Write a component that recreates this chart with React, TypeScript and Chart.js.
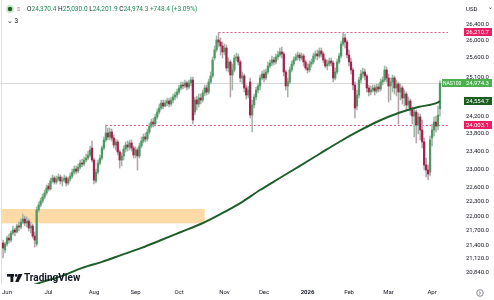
import React, { useEffect, useRef } from "react";
import { Chart, registerables } from "chart.js";

Chart.register(...registerables);

// ---- calendar (categories) ----
const firstDay = "2025-05-29";
const lastDay = "2026-04-08";
const closedDays = ["2025-12-25", "2026-01-01", "2026-04-03"];

const monthLabels = ["Jun", "Jul", "Aug", "Sep", "Oct", "Nov", "Dec", "2026", "Feb", "Mar", "Apr"];
const monthStarts = ["2025-06-02", "2025-07-01", "2025-08-01", "2025-09-01", "2025-10-01", "2025-11-03", "2025-12-01", "2026-01-02", "2026-02-02", "2026-03-02", "2026-04-01"];

// ---- daily OHLC (NAS100) ----
const opens = [
  21444, 21301, 21423, 21546, 21505, 21649, 21711, 21670, 21794, 21774, 21877, 21940, 21857, 21898, 21753, 21794, 21587, 21423, 22129, 22235, 22320, 22405, 22491,
  22640, 22577, 22749, 22815, 22728, 22793, 22836, 22749, 22771, 22815, 22706, 22793, 22858, 22945, 23011, 22967, 23055, 23143, 23121, 23210, 23254, 23321, 23477, 23210,
  22749, 22945, 23143, 23254, 23477, 23657, 23815, 23725, 23838, 23702, 23544, 23612, 23388, 23210, 23299, 23455, 23544, 23499, 23589, 23477,
  23321, 23432, 23299, 23522, 23634, 23725, 23680, 23838, 23974, 24066, 24020, 24181, 24297, 24390, 24506, 24436, 24506, 24553, 24483, 24576, 24647, 24694,
  24765, 24860, 24931, 24907, 24979, 24883, 24979, 25050, 24297, 24576, 24483, 24623, 24576, 24741, 24860, 24765, 25002, 25146, 25581, 25777, 26024, 25974, 25876,
  25728, 25826, 25338, 25484, 25170, 25290, 25581, 25606, 25484, 25098, 25146, 24860, 24694, 25002, 24227, 24459, 24647, 24812, 24907, 25098,
  25194, 25098, 25242, 25387, 25459, 25532, 25484, 25606, 25654, 25728, 25679, 25242, 24907, 25002, 25290, 25435, 25532, 25606, 25654, 25581, 25630, 25484,
  25338, 25290, 25435, 25484, 25630, 25679, 25630, 25752, 25679, 25532, 25387, 25435, 25508, 25459, 25098, 25242, 25484, 25630, 25925, 26074, 25974,
  25654, 25484, 25290, 24931, 24436, 24694, 25050, 25194, 25242, 25146, 24860, 24765, 24812, 24860, 24788, 24883, 24836, 25002, 25050, 25290,
  25098, 24907, 25002, 25098, 24860, 24955, 24765, 24860, 24623, 24718, 24459, 24553, 24343, 24204, 24297, 23997, 24181, 23883, 23612, 23099, 22989, 22945, 23702, 23883, 24066, 23974, 24370.4,
];
const highs = [
  21505, 21464, 21587, 21629, 21690, 21794, 21753, 21836, 21877, 21940, 22045, 22003, 21982, 21940, 21877, 21836, 21670, 22193, 22299, 22384, 22469, 22555, 22663,
  22700, 22815, 22880, 22858, 22858, 22902, 22880, 22836, 22880, 22858, 22836, 22924, 23011, 23077, 23077, 23121, 23210, 23232, 23276, 23343, 23410, 23522, 23634, 23254,
  23011, 23210, 23321, 23522, 23725, 24003.1, 23929, 23929, 23906, 23770, 23680, 23657, 23432, 23365, 23522, 23612, 23634, 23657, 23657, 23522,
  23499, 23477, 23589, 23725, 23793, 23815, 23906, 24043, 24135, 24158, 24250, 24366, 24483, 24576, 24576, 24576, 24623, 24623, 24647, 24718, 24765, 24836,
  24931, 25002, 25002, 25050, 25026, 25050, 25122, 25122, 24647, 24671, 24718, 24718, 24812, 24931, 24931, 25074, 25242, 25606, 25876, 26123, 26210.7, 26074, 25974,
  25925, 25900, 25581, 25532, 25435, 25654, 25703, 25679, 25532, 25242, 25194, 24931, 24907, 25098, 24576, 24718, 24883, 24979, 25170, 25266,
  25290, 25314, 25484, 25532, 25630, 25606, 25679, 25752, 25826, 25851, 25728, 25290, 25098, 25362, 25508, 25606, 25679, 25728, 25703, 25703, 25679, 25532,
  25435, 25508, 25557, 25703, 25752, 25777, 25826, 25826, 25728, 25581, 25532, 25581, 25581, 25508, 25338, 25557, 25703, 25999, 26198, 26173, 26024,
  25777, 25581, 25338, 25002, 24812, 25122, 25290, 25338, 25314, 25194, 24931, 24907, 24931, 24931, 24955, 24955, 25074, 25122, 25387, 25362,
  25194, 25098, 25170, 25146, 25050, 25002, 24955, 24907, 24812, 24765, 24647, 24600, 24413, 24390, 24343, 24273, 24250, 24112, 23702, 23254, 23099, 23747, 24020, 24181, 24204, 24436, 25030.0,
];
const lows = [
  21140, 21240, 21382, 21444, 21464, 21608, 21587, 21649, 21690, 21732, 21836, 21794, 21774, 21690, 21649, 21546, 21362, 21382, 22087, 22193, 22277, 22362, 22448,
  22534, 22555, 22706, 22684, 22684, 22749, 22684, 22641, 22728, 22641, 22663, 22749, 22815, 22902, 22902, 22924, 23011, 23055, 23077, 23166, 23210, 23276, 23166, 22684,
  22706, 22902, 23099, 23210, 23432, 23612, 23657, 23657, 23634, 23477, 23432, 23321, 23033, 23077, 23210, 23388, 23410, 23432, 23410, 23254,
  23254, 22989, 23254, 23477, 23589, 23612, 23634, 23793, 23929, 23951, 23974, 24135, 24250, 24343, 24366, 24413, 24436, 24413, 24436, 24506, 24576, 24623,
  24718, 24812, 24836, 24860, 24812, 24836, 24907, 24020, 24227, 24343, 24413, 24483, 24530, 24671, 24694, 24718, 24955, 25098, 25532, 25728, 25851, 25654, 25581,
  25654, 25266, 25242, 24647, 24812, 25242, 25508, 25411, 25002, 24955, 24765, 24600, 24623, 24158, 23838, 24390, 24576, 24741, 24812, 25050,
  25002, 25050, 25194, 25338, 25387, 25411, 25435, 25532, 25606, 25581, 25146, 24812, 24647, 24955, 25242, 25387, 25508, 25532, 25508, 25532, 25387, 25290,
  25218, 25242, 25362, 25435, 25557, 25532, 25581, 25606, 25459, 25338, 25290, 25387, 25387, 25002, 25050, 25194, 25435, 25581, 25876, 25826, 25581,
  25387, 25194, 24812, 24158, 24343, 24623, 24979, 25098, 25050, 24765, 24671, 24694, 24765, 24694, 24741, 24765, 24788, 24931, 25002, 25002,
  24530, 24576, 24765, 24718, 24671, 24020, 24576, 24483, 24436, 24343, 24390, 24227, 24020, 23725, 23589, 23793, 23657, 23477, 22989, 22836, 22771, 22858, 23522, 23747, 23838, 23883, 24201.9,
];
const closes = [
  21341, 21423, 21546, 21505, 21649, 21711, 21670, 21794, 21774, 21877, 21940, 21857, 21898, 21753, 21794, 21587, 21505, 22129, 22235, 22320, 22405, 22491, 22598,
  22577, 22749, 22815, 22728, 22793, 22836, 22749, 22771, 22815, 22706, 22793, 22858, 22945, 23011, 22967, 23055, 23143, 23121, 23210, 23254, 23321, 23432, 23210, 22771,
  22945, 23143, 23254, 23477, 23657, 23815, 23725, 23838, 23702, 23544, 23612, 23388, 23210, 23299, 23455, 23544, 23499, 23589, 23477, 23321,
  23432, 23299, 23522, 23634, 23725, 23680, 23838, 23974, 24066, 24020, 24181, 24297, 24390, 24506, 24436, 24506, 24553, 24483, 24576, 24647, 24694, 24765,
  24860, 24931, 24907, 24979, 24883, 24979, 25050, 24112, 24576, 24483, 24623, 24576, 24741, 24860, 24765, 25002, 25146, 25532, 25777, 26024, 25974, 25876, 25728,
  25826, 25338, 25484, 25170, 25290, 25581, 25606, 25484, 25098, 25146, 24860, 24694, 24812, 24227, 24459, 24647, 24812, 24907, 25098, 25194,
  25098, 25242, 25387, 25459, 25532, 25484, 25606, 25654, 25728, 25679, 25242, 24907, 25002, 25290, 25435, 25532, 25606, 25654, 25581, 25630, 25484, 25338,
  25290, 25435, 25484, 25630, 25679, 25630, 25752, 25679, 25532, 25387, 25435, 25508, 25459, 25098, 25242, 25484, 25630, 25925, 26074, 25974, 25654,
  25484, 25290, 24931, 24390, 24694, 25050, 25194, 25242, 25146, 24860, 24765, 24812, 24860, 24788, 24883, 24836, 25002, 25050, 25290, 25098,
  24907, 25002, 25098, 24860, 24955, 24765, 24860, 24623, 24718, 24459, 24553, 24343, 24204, 24297, 23997, 24181, 23883, 23612, 23099, 22989, 22902, 23657, 23883, 24066, 23974, 24225.9, 24974.3,
];

// ---- 200-day moving average, read at sample bars ----
const maBars = [10, 20, 30, 40, 50, 60, 70, 80, 90, 100, 110, 120, 130, 140, 150, 160, 170, 180, 190, 200, 210, 220, 221];
const maValues = [20526, 20663, 20782, 20941, 21061, 21202, 21344, 21505, 21670, 21836, 22045, 22277, 22555, 22815, 23077, 23343, 23612, 23861, 24089, 24273, 24413, 24520, 24554.7];

// ---- price axis labels ----
const priceTicks = [26400, 26000, 25600, 25100, 24200, 23800, 23400, 23000, 22600, 22300, 22000, 21700, 21400, 21120, 20840];

// ---- drawings ----
const levelHigh = 26210.7;
const levelHighFromBar = 109;
const levelLow = 24003.1;
const levelLowFromBar = 52;
const zoneLow = 21850;
const zoneHigh = 22150;
const zoneFromBar = -0.5;
const zoneToBar = 102;
const symbol = "NAS100";
const intervalLabel = "3";

// axis range
const yMin = 20622;
const yMax = 27035;
const xMin = -1.543;
const xMax = 225.06;

const FONT = "Roboto, 'Noto Sans', sans-serif";

function tradingDays(): string[] {
  const out: string[] = [];
  const d = new Date(firstDay + "T00:00:00Z");
  const end = new Date(lastDay + "T00:00:00Z");
  while (d <= end) {
    const wd = d.getUTCDay();
    const s = d.toISOString().slice(0, 10);
    if (wd !== 0 && wd !== 6 && !closedDays.includes(s)) out.push(s);
    d.setUTCDate(d.getUTCDate() + 1);
  }
  return out;
}

const fmt = (v: number) =>
  v.toLocaleString("en-US", { minimumFractionDigits: 1, maximumFractionDigits: 1 });

export default function App() {
  const ref = useRef<HTMLCanvasElement>(null);

  useEffect(() => {
    document.body.style.margin = "0";
    const days = tradingDays();
    const monthIdx = monthStarts.map((d) => days.indexOf(d));
    const n = closes.length;
    const UP = "#4e9a63";
    const DOWN = "#a8204d";
    const WICK_UP = "#9fb8a6";
    const WICK_DN = "#b9a3ab";

    const wickData = closes.map((c, i) => ({ x: i, y: [lows[i], highs[i]] }));
    const bodyData = closes.map((c, i) => ({ x: i, y: [opens[i], closes[i]] }));
    const bodyColors = closes.map((c, i) => (c >= opens[i] ? UP : DOWN));
    const wickColors = closes.map((c, i) => (c >= opens[i] ? WICK_UP : WICK_DN));
    const maData = maBars.map((b, i) => ({ x: b, y: maValues[i] }));

    const overlay = {
      id: "overlay",
      beforeDatasetsDraw(chart: any) {
        const { ctx, chartArea: a, scales } = chart;
        const x = scales.x, y = scales.y;
        ctx.save();
        ctx.beginPath();
        ctx.rect(a.left, a.top, a.right - a.left, a.bottom - a.top);
        ctx.clip();
        // zone
        const zx1 = x.getPixelForValue(zoneFromBar);
        const zx2 = x.getPixelForValue(zoneToBar);
        const zy1 = y.getPixelForValue(zoneHigh);
        const zy2 = y.getPixelForValue(zoneLow);
        ctx.fillStyle = "#fddaa6";
        ctx.fillRect(zx1, zy1, zx2 - zx1, zy2 - zy1);
        // last price line
        const py = Math.round(y.getPixelForValue(closes[n - 1])) + 0.5;
        ctx.strokeStyle = "#d9d9d9";
        ctx.lineWidth = 1;
        ctx.beginPath();
        ctx.moveTo(a.left, py);
        ctx.lineTo(a.right, py);
        ctx.stroke();
        // levels
        ctx.strokeStyle = "#e0578a";
        ctx.setLineDash([2, 2]);
        for (const [v, b] of [[levelHigh, levelHighFromBar], [levelLow, levelLowFromBar]]) {
          const ly = Math.round(y.getPixelForValue(v)) + 0.5;
          ctx.beginPath();
          ctx.moveTo(x.getPixelForValue(b), ly);
          ctx.lineTo(a.right, ly);
          ctx.stroke();
        }
        ctx.setLineDash([]);
        // left border line
        ctx.strokeStyle = "#e0e0e0";
        ctx.beginPath();
        ctx.moveTo(a.left + 1.5, a.top);
        ctx.lineTo(a.left + 1.5, a.bottom);
        ctx.stroke();
        ctx.restore();
      },
      afterDraw(chart: any) {
        const { ctx, chartArea: a, scales } = chart;
        const y = scales.y;
        ctx.save();
        ctx.textBaseline = "middle";
        ctx.font = `6px ${FONT}`;
        const tag = (v: number, bg: string, fg: string) => {
          const yy = Math.round(y.getPixelForValue(v));
          ctx.fillStyle = bg;
          ctx.fillRect(a.right + 16, yy - 4, 28, 8);
          ctx.fillStyle = fg;
          ctx.textAlign = "left";
          ctx.fillText(fmt(v), a.right + 18, yy + 0.5);
          return yy;
        };
        tag(levelHigh, "#e91e63", "#ffffff");
        tag(levelLow, "#e91e63", "#ffffff");
        tag(maValues[maValues.length - 1], "#1b5e20", "#ffffff");
        const cy = tag(closes[n - 1], "#4caf50", "#ffffff");
        ctx.fillStyle = "#4caf50";
        ctx.fillRect(a.right - 6, cy - 4, 22, 8);
        ctx.fillStyle = "#ffffff";
        ctx.font = `5px ${FONT}`;
        ctx.fillText(symbol, a.right - 5, cy + 0.5);

        // USD
        ctx.fillStyle = "#131722";
        ctx.font = `6px ${FONT}`;
        ctx.fillText("USD", a.right + 18, 9);
        ctx.fillText("⌄", a.right + 40, 7);

        // legend
        const lx = 27, ly = 9;
        ctx.fillStyle = "#c8e6c9";
        ctx.beginPath(); ctx.arc(10, ly, 4, 0, Math.PI * 2); ctx.fill();
        ctx.fillStyle = "#1b5e20";
        ctx.beginPath(); ctx.arc(10, ly, 2.2, 0, Math.PI * 2); ctx.fill();
        ctx.fillStyle = "#e0578a";
        ctx.font = `6px ${FONT}`;
        ctx.fillText("≡", 17, ly);
        const o = opens[n - 1], h = highs[n - 1], l = lows[n - 1], c = closes[n - 1];
        const prev = closes[n - 2];
        const chg = c - prev;
        const parts: [string, string][] = [
          ["O", fmt(o)], ["H", fmt(h)], ["L", fmt(l)], ["C", fmt(c)],
        ];
        ctx.font = `6.5px ${FONT}`;
        let cx = lx;
        for (const [k, v] of parts) {
          ctx.fillStyle = "#131722";
          ctx.fillText(k, cx, ly);
          cx += ctx.measureText(k).width;
          ctx.fillStyle = "#1e8c58";
          ctx.fillText(v, cx, ly);
          cx += ctx.measureText(v + " ").width;
        }
        ctx.fillStyle = "#1e8c58";
        ctx.fillText(`+${fmt(chg)} (+${((chg / prev) * 100).toFixed(2)}%)`, cx, ly);
        ctx.fillStyle = "#131722";
        ctx.fillText("⌄ " + intervalLabel, 7, 21);

        // TradingView logo
        ctx.fillStyle = "#131722";
        ctx.fillRect(7, 274, 7, 2.6);
        ctx.fillRect(10.5, 274, 2.8, 8);
        ctx.beginPath(); ctx.arc(16.2, 275.4, 1.4, 0, Math.PI * 2); ctx.fill();
        ctx.beginPath();
        ctx.moveTo(18.5, 274); ctx.lineTo(22.5, 274); ctx.lineTo(18.5, 282); ctx.lineTo(15.2, 282);
        ctx.closePath(); ctx.fill();
        ctx.font = `bold 10px ${FONT}`;
        ctx.fillText("TradingView", 24, 278.5);

        // go-to-realtime button
        ctx.strokeStyle = "#6a6d78";
        ctx.lineWidth = 0.8;
        ctx.beginPath(); ctx.arc(480, 293, 3.3, 0, Math.PI * 2); ctx.stroke();
        ctx.beginPath(); ctx.moveTo(479, 291.5); ctx.lineTo(480.6, 293); ctx.lineTo(479, 294.5); ctx.stroke();
        ctx.restore();
      },
    };

    const chart = new Chart(ref.current as HTMLCanvasElement, {
      type: "bar",
      data: {
        datasets: [
          {
            type: "line",
            data: maData as any,
            borderColor: "#1f5e29",
            borderWidth: 2,
            pointRadius: 0,
            tension: 0.4,
            cubicInterpolationMode: "monotone",
            order: 0,
          } as any,
          {
            type: "bar",
            data: bodyData as any,
            backgroundColor: bodyColors,
            barThickness: 1.6,
            grouped: false,
            borderWidth: 0,
            order: 1,
          } as any,
          {
            type: "bar",
            data: wickData as any,
            backgroundColor: wickColors,
            barThickness: 0.9,
            grouped: false,
            borderWidth: 0,
            order: 2,
          } as any,
        ],
      },
      options: {
        animation: false,
        responsive: false,
        maintainAspectRatio: false,
        devicePixelRatio: 1,
        layout: { padding: 0 },
        plugins: { legend: { display: false }, tooltip: { enabled: false } },
        scales: {
          x: {
            type: "linear",
            min: xMin,
            max: xMax,
            offset: false,
            position: "bottom",
            grid: { display: false, drawTicks: false },
            border: { display: false },
            afterBuildTicks: (s: any) => {
              s.ticks = monthIdx.map((v) => ({ value: v }));
            },
            afterFit: (s: any) => {
              s.height = 16;
              s.paddingLeft = 0;
              s.paddingRight = 0;
            },
            ticks: {
              autoSkip: false,
              maxRotation: 0,
              padding: 5,
              color: "#131722",
              font: (c: any) => ({
                family: FONT,
                size: 6,
                weight: c.tick && c.tick.label === "2026" ? "bold" : "normal",
              }),
              callback: (v: any) => monthLabels[monthIdx.indexOf(Number(v))] ?? "",
            },
          } as any,
          y: {
            type: "logarithmic",
            position: "right",
            min: yMin,
            max: yMax,
            grid: { display: false, drawTicks: false },
            border: { display: false },
            afterBuildTicks: (s: any) => {
              s.ticks = priceTicks.map((v) => ({ value: v }));
            },
            afterFit: (s: any) => {
              s.width = 46;
              s.paddingTop = 0;
              s.paddingBottom = 0;
            },
            ticks: {
              autoSkip: false,
              padding: 18,
              color: "#131722",
              font: { family: FONT, size: 6 },
              callback: (v: any) => fmt(Number(v)),
            },
          } as any,
        },
      },
      plugins: [overlay],
    });
    return () => chart.destroy();
  }, []);

  return (
    <div style={{ position: "absolute", left: 0, top: 0, width: 494, height: 300, background: "#fff" }}>
      <canvas ref={ref} width={494} height={300} style={{ display: "block", width: 494, height: 300 }} />
    </div>
  );
}
